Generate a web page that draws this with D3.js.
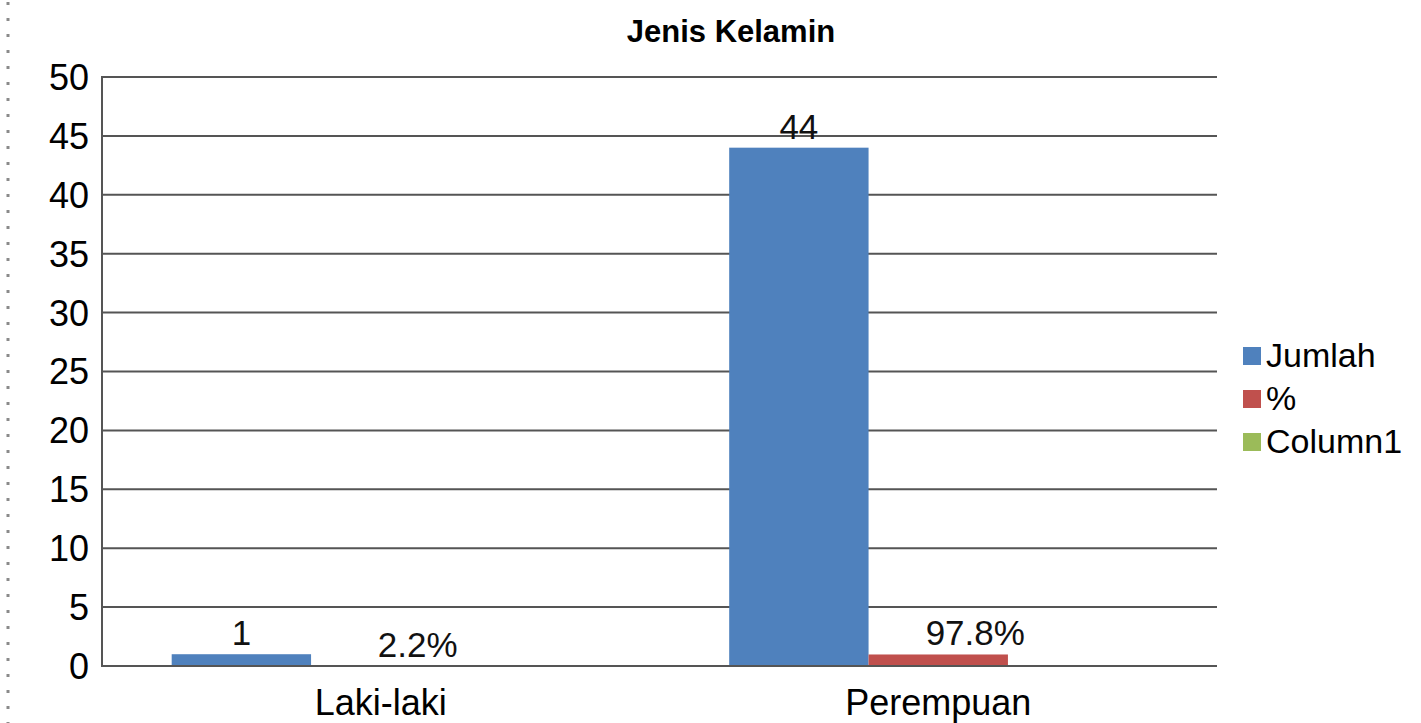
<!DOCTYPE html>
<html>
<head>
<meta charset="utf-8">
<script src="https://cdn.jsdelivr.net/npm/d3@7"></script>
<style>
  html, body { margin: 0; padding: 0; background: #ffffff; }
  svg { display: block; font-family: "Liberation Sans", Arial, sans-serif; }
</style>
</head>
<body>
<svg id="chart" width="1421" height="723"></svg>
<script>
// ---- data ----
const title = "Jenis Kelamin";
const categories = ["Laki-laki", "Perempuan"];
const seriesNames = ["Jumlah", "%", "Column1"];
const seriesColors = ["#4F81BD", "#C0504D", "#9BBB59"];
const jumlah = [1, 44];
const persen = [0.022, 0.978];
const column1 = [null, null];
const yTicks = [0, 5, 10, 15, 20, 25, 30, 35, 40, 45, 50];

const seriesValues = [jumlah, persen, column1];
const labelFormats = [d3.format("d"), d3.format(".1%"), null];

// ---- layout ----
const svg = d3.select("#chart");
const W = 1421, H = 723;
const plot = { left: 102, right: 1217, top: 77, bottom: 666 };

// dotted left border
svg.append("line")
  .attr("x1", 8).attr("x2", 8).attr("y1", 2).attr("y2", H)
  .attr("stroke", "#8a8a8a").attr("stroke-width", 3)
  .attr("stroke-dasharray", "3,13");

const y = d3.scaleLinear().domain([0, 50]).range([plot.bottom, plot.top]);
const x0 = d3.scaleBand().domain(categories)
  .range([plot.left, plot.right]).paddingInner(0.25).paddingOuter(0.125);
const x1 = d3.scaleBand().domain(seriesNames).range([0, x0.bandwidth()]);

// title
svg.append("text")
  .attr("x", 731).attr("y", 42)
  .attr("text-anchor", "middle")
  .attr("font-weight", "bold").attr("font-size", 31)
  .attr("fill", "#000")
  .text(title);

// gridlines
svg.append("g").selectAll("line").data(yTicks).join("line")
  .attr("x1", plot.left).attr("x2", plot.right)
  .attr("y1", d => y(d)).attr("y2", d => y(d))
  .attr("stroke", "#555").attr("stroke-width", 2);

// y axis line
svg.append("line")
  .attr("x1", plot.left).attr("x2", plot.left)
  .attr("y1", y(50) - 1).attr("y2", y(0) + 1)
  .attr("stroke", "#555").attr("stroke-width", 2);

// y tick labels
svg.append("g").selectAll("text").data(yTicks).join("text")
  .attr("x", 89).attr("y", d => y(d))
  .attr("dy", "0.36em")
  .attr("text-anchor", "end")
  .attr("font-size", 36).attr("fill", "#000")
  .text(d => d);

// bars
const barData = [];
categories.forEach((c, ci) => {
  seriesNames.forEach((s, si) => {
    const v = seriesValues[si][ci];
    if (v != null) barData.push({ c, s, si, v });
  });
});

svg.append("g").selectAll("rect").data(barData).join("rect")
  .attr("x", d => x0(d.c) + x1(d.s))
  .attr("width", x1.bandwidth())
  .attr("y", d => y(d.v))
  .attr("height", d => y(0) - y(d.v))
  .attr("fill", d => seriesColors[d.si]);

// redraw baseline over bars
svg.append("line")
  .attr("x1", plot.left).attr("x2", plot.right)
  .attr("y1", y(0)).attr("y2", y(0))
  .attr("stroke", "#555").attr("stroke-width", 2);

// data labels
const labelShift = [0, 37, 0];
svg.append("g").selectAll("text").data(barData).join("text")
  .attr("x", d => x0(d.c) + x1(d.s) + x1.bandwidth() / 2 + labelShift[d.si])
  .attr("y", d => y(d.v) - 9)
  .attr("text-anchor", "middle")
  .attr("font-size", 35).attr("fill", "#111")
  .text(d => labelFormats[d.si](d.v));

// category labels
svg.append("g").selectAll("text").data(categories).join("text")
  .attr("x", d => x0(d) + x0.bandwidth() / 2 + 0)
  .attr("y", 715)
  .attr("text-anchor", "middle")
  .attr("font-size", 36).attr("fill", "#000")
  .text(d => d);

// legend
const legend = svg.append("g").attr("transform", "translate(1243,343)");
const items = legend.selectAll("g").data(seriesNames).join("g")
  .attr("transform", (d, i) => `translate(0,${i * 43})`);
items.append("rect")
  .attr("x", 0).attr("y", 4).attr("width", 18).attr("height", 18)
  .attr("fill", (d, i) => seriesColors[i]);
items.append("text")
  .attr("x", 23).attr("y", 24)
  .attr("font-size", 34).attr("fill", "#000")
  .text(d => d);
</script>
</body>
</html>
